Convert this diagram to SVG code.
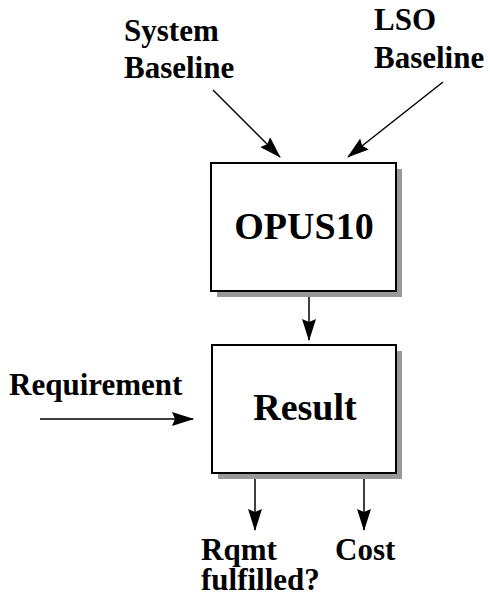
<svg xmlns="http://www.w3.org/2000/svg" width="490" height="601" viewBox="0 0 490 601">
  <style>
    .box { fill: #ffffff; stroke: #000000; stroke-width: 2; }
    .shadow { fill: #999999; stroke: none; }
    .label { font-family: "Liberation Serif", "Times New Roman", serif; font-weight: bold; font-size: 31px; fill: #000000; }
    .title { font-family: "Liberation Serif", "Times New Roman", serif; font-weight: bold; font-size: 38px; fill: #000000; text-anchor: middle; }
    .wire { stroke: #000000; stroke-width: 1.5; fill: none; marker-end: url(#arrow); }
  </style>
  <defs>
    <marker id="arrow" markerUnits="userSpaceOnUse" markerWidth="22" markerHeight="14" refX="21" refY="7" orient="auto">
      <path d="M0,0 L22,7 L0,14 L3,7 z" fill="#000000"/>
    </marker>
  </defs>

  <rect width="490" height="601" fill="#ffffff"/>

  <!-- Input / output labels -->
  <g id="label-system-baseline">
    <text class="label" x="124" y="41">System</text>
    <text class="label" x="124" y="78">Baseline</text>
  </g>
  <g id="label-lso-baseline">
    <text class="label" x="374" y="30">LSO</text>
    <text class="label" x="374" y="68">Baseline</text>
  </g>
  <g id="label-requirement">
    <text class="label" x="9" y="395">Requirement</text>
  </g>
  <g id="label-rqmt">
    <text class="label" x="201" y="560">Rqmt</text>
    <text class="label" x="201" y="590">fulfilled?</text>
  </g>
  <g id="label-cost">
    <text class="label" x="335" y="560">Cost</text>
  </g>

  <!-- Processing box -->
  <g id="opus10">
    <rect class="shadow" x="217" y="169" width="185" height="128"/>
    <rect class="box" x="211" y="163" width="185" height="128"/>
    <text class="title" x="304" y="239">OPUS10</text>
  </g>

  <!-- Result box -->
  <g id="result">
    <rect class="shadow" x="218" y="351" width="184" height="128"/>
    <rect class="box" x="212" y="345" width="184" height="128"/>
    <text class="title" x="305" y="420">Result</text>
  </g>

  <!-- Connectors -->
  <g id="connectors">
    <line class="wire" x1="213" y1="90" x2="280" y2="157"/>
    <line class="wire" x1="443" y1="82" x2="348" y2="157"/>
    <line class="wire" x1="309" y1="297" x2="309" y2="340"/>
    <line class="wire" x1="40" y1="419" x2="193" y2="419"/>
    <line class="wire" x1="255" y1="479" x2="255" y2="530"/>
    <line class="wire" x1="364" y1="479" x2="364" y2="530"/>
  </g>
</svg>
